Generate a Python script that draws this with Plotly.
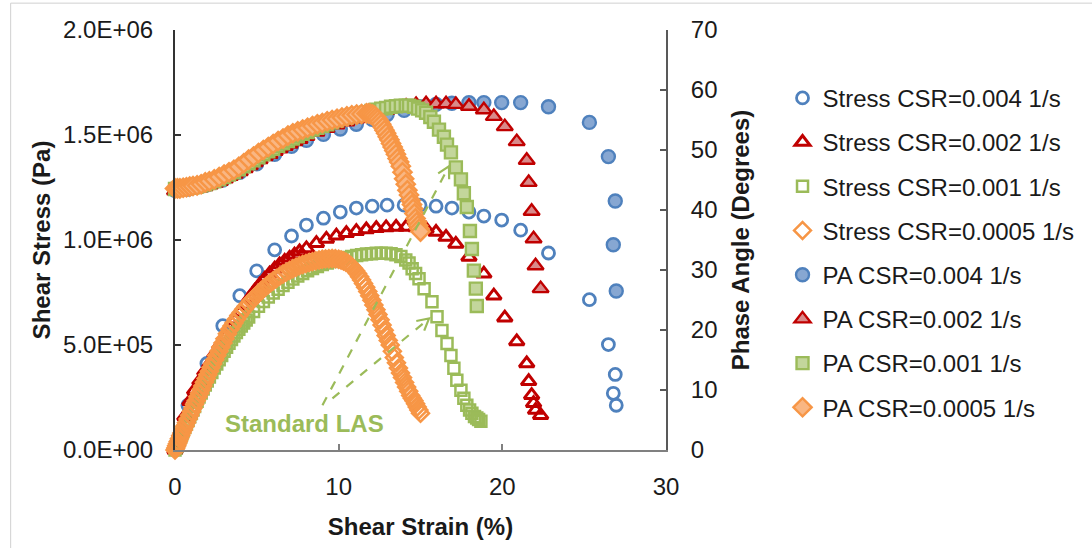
import math
import plotly.graph_objects as go

# ---------------- data ----------------
# CSR = 0.004 1/s  (stress and phase angle share strain points)
blue_x = [0.0, 0.79, 1.95, 2.92, 3.96, 4.99, 6.09, 7.12, 8.03, 9.07, 10.10, 11.08, 12.05, 12.96,
          14.00, 14.97, 15.95, 16.92, 17.96, 18.87, 19.96, 21.12, 22.82, 25.32, 26.48, 26.90, 26.78, 26.96]
blue_stress = [0.0, 0.213e6, 0.412e6, 0.592e6, 0.735e6, 0.853e6, 0.953e6, 1.019e6, 1.071e6, 1.104e6,
               1.133e6, 1.152e6, 1.161e6, 1.166e6, 1.166e6, 1.166e6, 1.161e6, 1.152e6, 1.133e6, 1.114e6,
               1.095e6, 1.047e6, 0.938e6, 0.716e6, 0.502e6, 0.360e6, 0.270e6, 0.213e6]
blue_pa = [43.3, 43.5, 44.2, 45.0, 46.3, 47.7, 49.3, 50.6, 51.6, 52.6, 53.5, 54.3, 55.1, 55.9,
           56.6, 57.2, 57.6, 57.8, 57.9, 57.9, 57.9, 57.9, 57.2, 54.6, 48.9, 41.5, 34.2, 26.5]

# CSR = 0.002 1/s
red_x = [0.0, 0.3, 0.6, 0.91, 1.2, 1.52, 1.82, 2.13, 2.44, 2.74, 3.05, 3.35, 3.65, 3.96, 4.26, 4.57,
         4.87, 5.17, 5.48, 5.78, 6.09, 6.39, 6.70, 7.00, 7.30, 7.61, 8.03, 8.64, 9.25, 9.86, 10.47,
         11.08, 11.69, 12.30, 12.90, 13.51, 14.12, 14.73, 15.34, 15.95, 16.56, 17.16, 17.96, 18.87,
         19.48, 20.15, 20.88, 21.49, 21.61, 21.79, 21.91, 22.03, 22.34]
red_stress = [0.0, 0.08e6, 0.16e6, 0.232e6, 0.285e6, 0.33e6, 0.375e6, 0.412e6, 0.46e6, 0.50e6, 0.54e6,
              0.58e6, 0.62e6, 0.655e6, 0.69e6, 0.725e6, 0.757e6, 0.787e6, 0.815e6, 0.84e6, 0.863e6,
              0.883e6, 0.90e6, 0.915e6, 0.93e6, 0.945e6, 0.96e6, 0.985e6, 1.005e6, 1.02e6, 1.032e6,
              1.042e6, 1.050e6, 1.056e6, 1.060e6, 1.062e6, 1.062e6, 1.060e6, 1.052e6, 1.038e6, 1.014e6,
              0.981e6, 0.919e6, 0.839e6, 0.735e6, 0.630e6, 0.517e6, 0.412e6, 0.327e6, 0.261e6, 0.223e6,
              0.190e6, 0.166e6]
red_pa = [43.2, 43.2, 43.3, 43.4, 43.5, 43.7, 43.9, 44.2, 44.5, 44.8, 45.2, 45.6, 46.0, 46.4, 46.9,
          47.4, 47.9, 48.4, 48.9, 49.3, 49.8, 50.2, 50.6, 51.0, 51.4, 51.8, 52.3, 53.0, 53.6, 54.2,
          54.7, 55.2, 55.7, 56.1, 56.6, 57.0, 57.3, 57.6, 57.7, 57.7, 57.7, 57.6, 57.3, 56.7, 55.6,
          53.9, 51.4, 48.3, 44.6, 39.8, 35.2, 30.7, 26.9]

# CSR = 0.001 1/s (Standard LAS)
green_sx = [0.0, 0.05, 0.1, 0.15, 0.2, 0.27, 0.35, 0.42, 0.5, 0.6, 0.7, 0.8, 0.9, 1.0, 1.1, 1.2,
            1.35, 1.47, 1.6, 1.72, 1.85, 1.97, 2.1, 2.25, 2.4, 2.55, 2.7, 2.85, 3.0, 3.15, 3.3, 3.45,
            3.6, 3.75, 3.9, 4.05, 4.2, 4.35, 4.5, 4.8, 5.1, 5.4, 5.7, 6.0, 6.3, 6.6, 6.9, 7.2, 7.5,
            7.8, 8.1, 8.4, 8.7, 9.0, 9.3, 9.6, 9.9, 10.2, 10.5, 10.8, 11.1, 11.4, 11.7, 12.0, 12.3,
            12.6, 12.9, 13.2, 13.5, 13.8, 14.1, 14.3, 14.49, 14.7, 14.91, 15.22, 15.70, 16.01, 16.31,
            16.62, 16.86, 17.04, 17.22, 17.47, 17.65, 17.83, 18.0, 18.14, 18.3, 18.44, 18.55, 18.69]
green_stress = [0.0, 0.009e6, 0.018e6, 0.027e6, 0.036e6, 0.049e6, 0.063e6, 0.076e6, 0.09e6, 0.107e6,
                0.124e6, 0.141e6, 0.158e6, 0.174e6, 0.19e6, 0.207e6, 0.232e6, 0.252e6, 0.272e6,
                0.291e6, 0.31e6, 0.329e6, 0.348e6, 0.369e6, 0.39e6, 0.41e6, 0.43e6, 0.45e6, 0.47e6,
                0.489e6, 0.508e6, 0.526e6, 0.543e6, 0.559e6, 0.575e6, 0.59e6, 0.605e6, 0.619e6,
                0.633e6, 0.66e6, 0.684e6, 0.707e6, 0.728e6, 0.748e6, 0.766e6, 0.783e6, 0.799e6,
                0.814e6, 0.828e6, 0.841e6, 0.853e6, 0.864e6, 0.874e6, 0.883e6, 0.891e6, 0.898e6,
                0.905e6, 0.911e6, 0.917e6, 0.922e6, 0.926e6, 0.93e6, 0.933e6, 0.935e6, 0.937e6,
                0.937e6, 0.937e6, 0.935e6, 0.93e6, 0.921e6, 0.905e6, 0.89e6, 0.863e6, 0.84e6, 0.815e6,
                0.768e6, 0.706e6, 0.635e6, 0.569e6, 0.507e6, 0.450e6, 0.389e6, 0.332e6, 0.284e6,
                0.246e6, 0.213e6, 0.19e6, 0.175e6, 0.16e6, 0.152e6, 0.145e6, 0.137e6]
green_px = [0.0, 0.15, 0.3, 0.5, 0.7, 0.9, 1.1, 1.35, 1.6, 1.85, 2.1, 2.4, 2.7, 3.0, 3.3, 3.6, 3.9,
            4.2, 4.5, 4.8, 5.1, 5.4, 5.7, 6.0, 6.3, 6.6, 6.9, 7.2, 7.5, 7.8, 8.1, 8.4, 8.7, 9.0, 9.3,
            9.6, 9.9, 10.2, 10.5, 10.8, 11.1, 11.4, 11.7, 12.0, 12.3, 12.6, 12.9, 13.2, 13.5, 13.8,
            14.1, 14.3, 14.6, 14.85, 15.1, 15.34, 15.6, 15.82, 16.13, 16.43, 16.62, 16.86, 17.16,
            17.47, 17.65, 17.83, 18.02, 18.14, 18.26, 18.38, 18.44]
green_pa = [43.5, 43.5, 43.5, 43.6, 43.6, 43.7, 43.8, 43.9, 44.1, 44.3, 44.5, 44.8, 45.1, 45.5, 45.9,
            46.3, 46.8, 47.3, 47.8, 48.3, 48.8, 49.3, 49.8, 50.2, 50.7, 51.1, 51.5, 51.9, 52.3, 52.7,
            53.0, 53.4, 53.7, 54.0, 54.3, 54.6, 54.9, 55.2, 55.4, 55.6, 55.9, 56.1, 56.3, 56.5, 56.7,
            56.9, 57.0, 57.2, 57.3, 57.4, 57.4, 57.4, 57.2, 56.9, 56.6, 56.2, 55.5, 54.7, 53.4, 52.2,
            50.9, 49.6, 47.1, 45.1, 42.8, 40.5, 36.5, 33.5, 29.9, 26.9, 24.0]

# CSR = 0.0005 1/s
orange_sx = [0.0, 0.05, 0.1, 0.15, 0.2, 0.27, 0.35, 0.42, 0.5, 0.6, 0.7, 0.8, 0.9, 1.0, 1.1, 1.2,
             1.3, 1.4, 1.5, 1.6, 1.7, 1.8, 1.9, 2.0, 2.1, 2.2, 2.3, 2.43, 2.55, 2.68, 2.8, 2.93, 3.05,
             3.2, 3.35, 3.48, 3.6, 3.75, 3.9, 4.05, 4.2, 4.35, 4.5, 4.65, 4.8, 4.95, 5.1, 5.25, 5.4,
             5.55, 5.7, 5.85, 6.0, 6.2, 6.4, 6.6, 6.8, 7.0, 7.2, 7.4, 7.6, 7.8, 8.0, 8.2, 8.4, 8.6,
             8.8, 9.0, 9.2, 9.4, 9.6, 9.8, 10.0, 10.15, 10.3, 10.45, 10.6, 10.75, 10.9, 11.03, 11.15,
             11.28, 11.4, 11.52, 11.65, 11.78, 11.9, 12.03, 12.15, 12.28, 12.4, 12.53, 12.65, 12.78,
             12.9, 13.03, 13.15, 13.28, 13.4, 13.53, 13.65, 13.78, 13.9, 14.03, 14.15, 14.28, 14.4,
             14.5, 14.6, 14.7, 14.8, 14.9, 15.0]
orange_stress = [0.0, 0.01e6, 0.02e6, 0.03e6, 0.04e6, 0.054e6, 0.068e6, 0.081e6, 0.095e6, 0.113e6,
                 0.13e6, 0.148e6, 0.165e6, 0.183e6, 0.20e6, 0.218e6, 0.235e6, 0.253e6, 0.27e6,
                 0.288e6, 0.305e6, 0.323e6, 0.34e6, 0.358e6, 0.375e6, 0.393e6, 0.41e6, 0.43e6, 0.45e6,
                 0.47e6, 0.49e6, 0.51e6, 0.53e6, 0.553e6, 0.575e6, 0.59e6, 0.605e6, 0.623e6, 0.64e6,
                 0.655e6, 0.67e6, 0.684e6, 0.697e6, 0.71e6, 0.722e6, 0.734e6, 0.745e6, 0.757e6,
                 0.768e6, 0.778e6, 0.788e6, 0.797e6, 0.806e6, 0.817e6, 0.828e6, 0.838e6, 0.847e6,
                 0.855e6, 0.863e6, 0.87e6, 0.877e6, 0.883e6, 0.888e6, 0.893e6, 0.897e6, 0.901e6,
                 0.905e6, 0.908e6, 0.91e6, 0.911e6, 0.912e6, 0.911e6, 0.908e6, 0.905e6, 0.90e6,
                 0.894e6, 0.887e6, 0.877e6, 0.865e6, 0.853e6, 0.84e6, 0.825e6, 0.81e6, 0.793e6,
                 0.775e6, 0.755e6, 0.735e6, 0.713e6, 0.69e6, 0.668e6, 0.645e6, 0.62e6, 0.595e6,
                 0.57e6, 0.545e6, 0.522e6, 0.50e6, 0.47e6, 0.44e6, 0.415e6, 0.39e6, 0.367e6, 0.345e6,
                 0.322e6, 0.30e6, 0.28e6, 0.26e6, 0.247e6, 0.235e6, 0.22e6, 0.205e6, 0.19e6, 0.175e6]
orange_px = [0.0, 0.15, 0.3, 0.5, 0.7, 0.9, 1.1, 1.35, 1.6, 1.85, 2.1, 2.4, 2.7, 3.0, 3.3, 3.6, 3.9,
             4.2, 4.5, 4.8, 5.1, 5.4, 5.7, 6.0, 6.3, 6.6, 6.9, 7.2, 7.5, 7.8, 8.1, 8.4, 8.7, 9.0,
             9.3, 9.6, 9.9, 10.2, 10.5, 10.8, 11.1, 11.4, 11.7, 11.83, 11.95, 12.08, 12.2, 12.3, 12.4,
             12.5, 12.6, 12.7, 12.8, 12.9, 13.0, 13.1, 13.2, 13.3, 13.4, 13.5, 13.6, 13.7, 13.8,
             13.9, 14.0, 14.1, 14.2, 14.3, 14.4, 14.48, 14.55, 14.63, 14.7, 14.78, 14.85, 14.93, 15.0]
orange_pa = [43.6, 43.6, 43.6, 43.7, 43.8, 43.9, 44.0, 44.1, 44.3, 44.6, 44.8, 45.1, 45.5, 45.9,
             46.3, 46.7, 47.2, 47.8, 48.4, 48.9, 49.5, 50.0, 50.5, 51.0, 51.5, 51.9, 52.4, 52.8,
             53.1, 53.4, 53.7, 54.0, 54.3, 54.5, 54.8, 55.0, 55.2, 55.4, 55.6, 55.8, 55.9, 56.0,
             56.1, 56.1, 56.0, 55.9, 55.7, 55.4, 55.1, 54.7, 54.3, 53.8, 53.3, 52.8, 52.2, 51.7,
             51.1, 50.5, 49.9, 49.3, 48.6, 48.0, 47.3, 46.3, 45.2, 44.3, 43.3, 42.5, 41.6, 40.9,
             40.2, 39.4, 38.6, 38.0, 37.4, 36.9, 36.4]

y_tickvals = [0, 0.5e6, 1.0e6, 1.5e6, 2.0e6]
y_ticktext = ["0.0E+00", "5.0E+05", "1.0E+06", "1.5E+06", "2.0E+06"]
x_tickvals = [0, 10, 20, 30]
y2_tickvals = [0, 10, 20, 30, 40, 50, 60, 70]

# ---------------- styling ----------------
BLUE, RED, GREEN, ORANGE = "#4f81bd", "#c00000", "#9bbb59", "#f79646"
FILL = {BLUE: "#87a7d2", RED: "#d98a8a", GREEN: "#c3d69b", ORANGE: "#f9b682"}
FONT = "Liberation Sans, Arial, sans-serif"
TXT = "#1a1a1a"

W, H = 1092, 548
ML, MR, MT, MB = 175, 424, 30, 96
XR, YR = [0, 30], [0, 2.0e6]

fig = go.Figure()

stress_series = [
    ("Stress CSR=0.004 1/s", blue_x, blue_stress, BLUE, "circle-open", 12, 2.8),
    ("Stress CSR=0.002 1/s", red_x, red_stress, RED, "triangle-up-open", 13, 3.0),
    ("Stress CSR=0.001 1/s", green_sx, green_stress, GREEN, "square-open", 11, 2.5),
    ("Stress CSR=0.0005 1/s", orange_sx, orange_stress, ORANGE, "diamond-open", 13, 2.5),
]
pa_series = [
    ("PA CSR=0.004 1/s", blue_x, blue_pa, BLUE, "circle", 13),
    ("PA CSR=0.002 1/s", red_x, red_pa, RED, "triangle-up", 14),
    ("PA CSR=0.001 1/s", green_px, green_pa, GREEN, "square", 12),
    ("PA CSR=0.0005 1/s", orange_px, orange_pa, ORANGE, "diamond", 14),
]

gi = 0
for name, xs, ys, col, sym, sz, lw in stress_series:
    fig.add_trace(go.Scatter(
        x=xs, y=ys, name=name, mode="markers", cliponaxis=False,
        legendgroup=f"g{gi}",
        marker=dict(symbol=sym, size=sz, color=col, line=dict(color=col, width=lw)),
    ))
    gi += 1
for name, xs, ys, col, sym, sz in pa_series:
    fig.add_trace(go.Scatter(
        x=xs, y=ys, name=name, mode="markers", yaxis="y2", cliponaxis=False,
        legendgroup=f"g{gi}",
        marker=dict(symbol=sym, size=sz, color=FILL[col], line=dict(color=col, width=2.4)),
    ))
    gi += 1

# ---------------- annotation: Standard LAS with dashed arrows ----------------
PW, PH = W - ML - MR, H - MT - MB


def to_px(x, y):
    return (ML + (x - XR[0]) / (XR[1] - XR[0]) * PW,
            MT + PH - (y - YR[0]) / (YR[1] - YR[0]) * PH)


def to_data(px, py):
    return (XR[0] + (px - ML) / PW * (XR[1] - XR[0]),
            YR[0] + (MT + PH - py) / PH * (YR[1] - YR[0]))


arrows = [((9.01, 0.213e6), (16.74, 1.351e6)),
          ((9.62, 0.246e6), (15.52, 0.626e6))]
for (x0, y0), (x1, y1) in arrows:
    fig.add_shape(type="line", xref="x", yref="y", x0=x0, y0=y0, x1=x1, y1=y1,
                  line=dict(color=GREEN, width=2.2, dash="dash"))
    p0, p1 = to_px(x0, y0), to_px(x1, y1)
    dx, dy = p1[0] - p0[0], p1[1] - p0[1]
    L = math.hypot(dx, dy)
    ux, uy = -dx / L, -dy / L
    pts = []
    for ang in (0.5, -0.5):
        ca, sa = math.cos(ang), math.sin(ang)
        rx, ry = ux * ca - uy * sa, ux * sa + uy * ca
        pts.append(to_data(p1[0] + 13 * rx, p1[1] + 13 * ry))
    path = f"M {pts[0][0]},{pts[0][1]} L {x1},{y1} L {pts[1][0]},{pts[1][1]}"
    fig.add_shape(type="path", xref="x", yref="y", path=path,
                  line=dict(color=GREEN, width=2.2))

fig.add_annotation(x=7.91, y=0.128e6, xref="x", yref="y", text="<b>Standard LAS</b>",
                   showarrow=False, font=dict(family=FONT, size=24, color=GREEN),
                   xanchor="center", yanchor="middle")

# outer chart border
fig.add_shape(type="rect", xref="paper", yref="paper",
              x0=(10 - ML) / PW, x1=(1100 - ML) / PW,
              y0=(MT + PH - 560) / PH, y1=(MT + PH - 3) / PH,
              line=dict(color="#d0d0d0", width=1), fillcolor="rgba(0,0,0,0)", layer="below")

axis_common = dict(showgrid=False, zeroline=False, ticks="inside", ticklen=6, tickwidth=1.5,
                   showline=True, linewidth=2, tickfont=dict(family=FONT, size=24, color=TXT))

fig.update_layout(
    width=W, height=H, autosize=False,
    margin=dict(l=ML, r=MR, t=MT, b=MB),
    paper_bgcolor="white", plot_bgcolor="white",
    font=dict(family=FONT, size=24, color=TXT),
    xaxis=dict(range=XR, tickvals=x_tickvals, linecolor="#808080", tickcolor="#808080",
               ticklabelstandoff=14,
               title=dict(text="<b>Shear Strain (%)</b>", font=dict(family=FONT, size=24, color=TXT),
                          standoff=19),
               **axis_common),
    yaxis=dict(range=YR, tickvals=y_tickvals, ticktext=y_ticktext, linecolor="#333333",
               tickcolor="#333333", ticklabelstandoff=15,
               title=dict(text="<b>Shear Stress (Pa)</b>", font=dict(family=FONT, size=24, color=TXT),
                          standoff=6),
               **axis_common),
    yaxis2=dict(range=[0, 70], tickvals=y2_tickvals, overlaying="y", side="right",
                linecolor="#595959", tickcolor="#595959", ticklabelstandoff=18,
                title=dict(text="<b>Phase Angle (Degrees)</b>",
                           font=dict(family=FONT, size=24, color=TXT), standoff=16),
                **axis_common),
    legend=dict(x=(785 - ML) / PW, xanchor="left", y=(MT + PH - 76) / PH, yanchor="top",
                font=dict(family=FONT, size=24, color=TXT), tracegroupgap=10,
                bgcolor="rgba(0,0,0,0)", itemsizing="trace"),
    showlegend=True,
)

fig.write_html("out.html", config={"displayModeBar": False},
               post_script="document.body.style.margin='0px';")
